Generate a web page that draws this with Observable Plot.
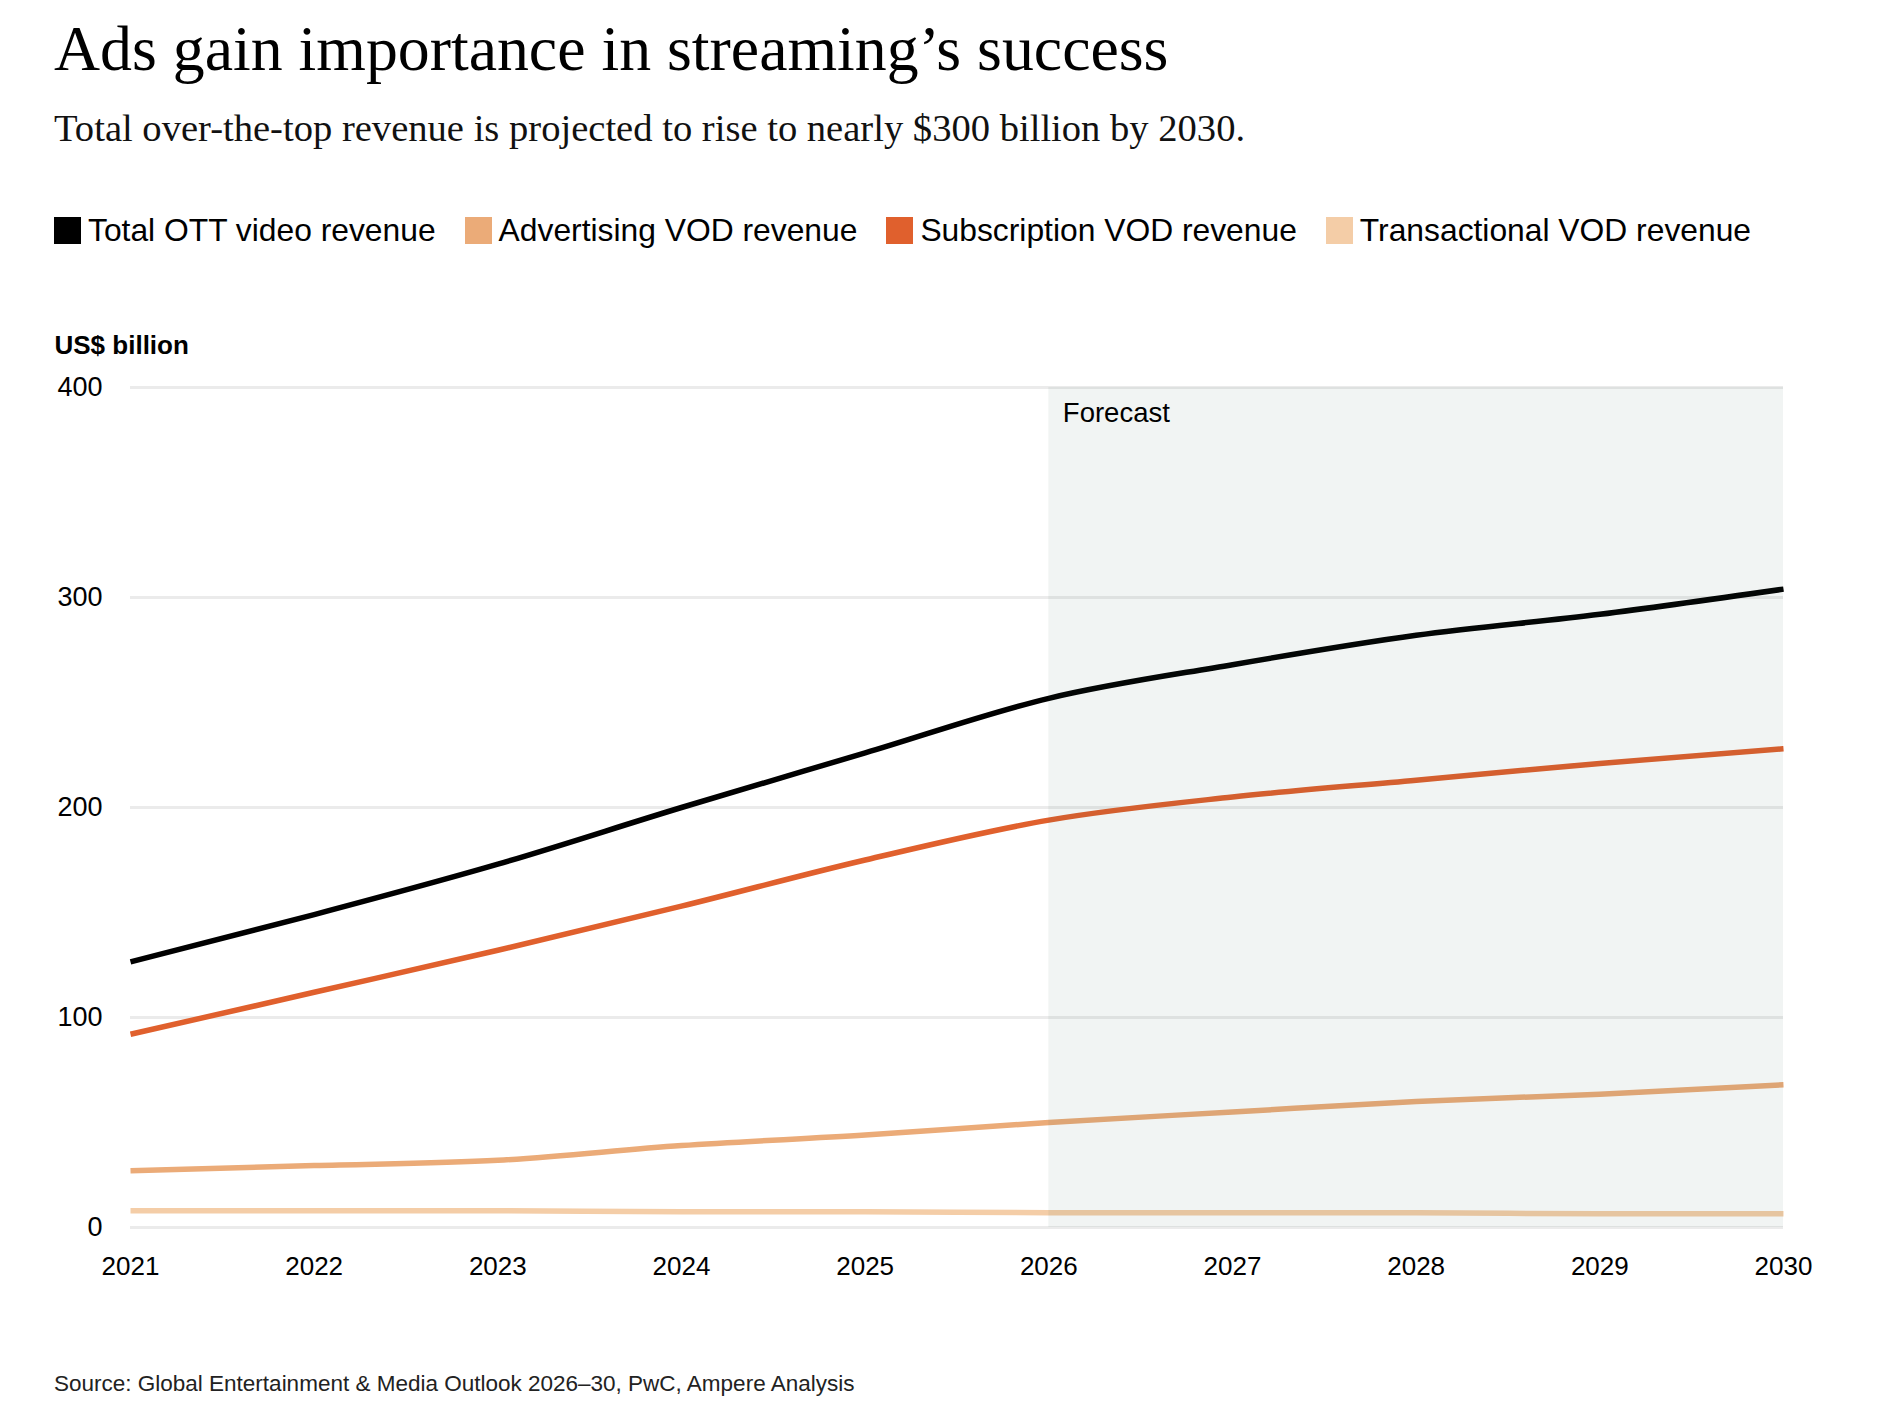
<!DOCTYPE html>
<html>
<head>
<meta charset="utf-8">
<script src="https://cdn.jsdelivr.net/npm/d3@7"></script>
<script src="https://cdn.jsdelivr.net/npm/@observablehq/plot@0.6"></script>
<style>
  html, body { margin: 0; padding: 0; background: #fff; }
  body { width: 1884px; height: 1413px; position: relative; overflow: hidden; font-family: "Liberation Sans", Arial, sans-serif; color: #000; }
  .abs { position: absolute; left: 54px; white-space: nowrap; }
  #title { top: 13px; font-family: "Liberation Serif", "DejaVu Serif", serif; font-size: 63.8px; line-height: 72px; }
  #subtitle { top: 105px; font-family: "Liberation Serif", "DejaVu Serif", serif; font-size: 38.6px; line-height: 46px; color: #111; }
  #legend { top: 211px; display: flex; gap: 29px; font-size: 31.8px; line-height: 38px; }
  .item { display: flex; align-items: center; gap: 7px; }
  .sw { width: 27px; height: 27px; display: inline-block; }
  #chart { position: absolute; left: 0; top: 320px; }
  #source { top: 1370px; font-size: 22.5px; line-height: 28px; color: #222; }
</style>
</head>
<body>
<div id="title" class="abs">Ads gain importance in streaming’s success</div>
<div id="subtitle" class="abs">Total over-the-top revenue is projected to rise to nearly $300 billion by 2030.</div>
<div id="legend" class="abs"></div>
<div id="chart"></div>
<div id="source" class="abs">Source: Global Entertainment &amp; Media Outlook 2026–30, PwC, Ampere Analysis</div>
<script>
const years = [2021, 2022, 2023, 2024, 2025, 2026, 2027, 2028, 2029, 2030];
const totalOTT      = [126.5, 149, 173, 200, 226, 252, 268, 282, 292, 304];
const subscription  = [92, 112, 132, 153, 175, 194, 205, 213, 221, 228];
const advertising   = [27, 29.5, 32, 39, 44, 50, 55, 60, 63.5, 68];
const transactional = [8, 8, 8, 7.5, 7.5, 7, 7, 7, 6.5, 6.5];
const seriesNames = ["Total OTT video revenue", "Advertising VOD revenue", "Subscription VOD revenue", "Transactional VOD revenue"];
const seriesColors = ["#000000", "#ebab78", "#e0602d", "#f4cda7"];
const yTicks = [0, 100, 200, 300, 400];
const forecastStart = 2026;
const forecastEnd = 2030;
const yLabel = "US$ billion";
const forecastLabel = "Forecast";

// legend
const legend = document.getElementById("legend");
seriesNames.forEach((n, i) => {
  const it = document.createElement("div");
  it.className = "item";
  it.innerHTML = `<span class="sw" style="background:${seriesColors[i]}"></span><span>${n}</span>`;
  legend.appendChild(it);
});

const valuesBySeries = [totalOTT, advertising, subscription, transactional];
const data = [];
// draw order: transactional, advertising, subscription, total
[3, 1, 2, 0].forEach(si => {
  years.forEach((y, j) => data.push({year: y, value: valuesBySeries[si][j], series: seriesNames[si]}));
});

const chart = Plot.plot({
  width: 1884,
  height: 977,
  marginLeft: 130,
  marginRight: 101,
  marginTop: 67,
  marginBottom: 70,
  style: { fontFamily: "Liberation Sans, Arial, sans-serif", fontSize: "26px", color: "#000", background: "transparent" },
  x: { domain: [2021, 2030], type: "linear" },
  y: { domain: [0, 400] },
  color: { domain: seriesNames, range: seriesColors },
  marks: [
    Plot.ruleY(yTicks, { stroke: "#ebebeb", strokeWidth: 3 }),
    Plot.line(data, { x: "year", y: "value", z: "series", stroke: "series", curve: "monotone-x", strokeWidth: 5.5, strokeLinejoin: "round", strokeLinecap: "butt" }),
    Plot.rect([{ x1: forecastStart, x2: forecastEnd, y1: 0, y2: 400 }], { x1: "x1", x2: "x2", y1: "y1", y2: "y2", fill: "#325a46", fillOpacity: 0.068 }),
    Plot.text([{ x: forecastStart, y: 400, t: forecastLabel }], { x: "x", y: "y", text: "t", textAnchor: "start", dx: 14, dy: 26, fontSize: 27.5, fill: "#000" }),
    Plot.text([yLabel], { text: d => d, frameAnchor: "top-left", textAnchor: "start", dx: -76, dy: -52, fontSize: 26, fontWeight: "bold", fill: "#000" }),
    Plot.axisX({ ticks: years, tickFormat: d => String(d), tickSize: 0, tickPadding: 29, fontSize: 26, label: null }),
    Plot.axisY({ ticks: yTicks, tickSize: 0, tickPadding: 28, fontSize: 27, label: null })
  ]
});
document.getElementById("chart").appendChild(chart);
</script>
</body>
</html>
